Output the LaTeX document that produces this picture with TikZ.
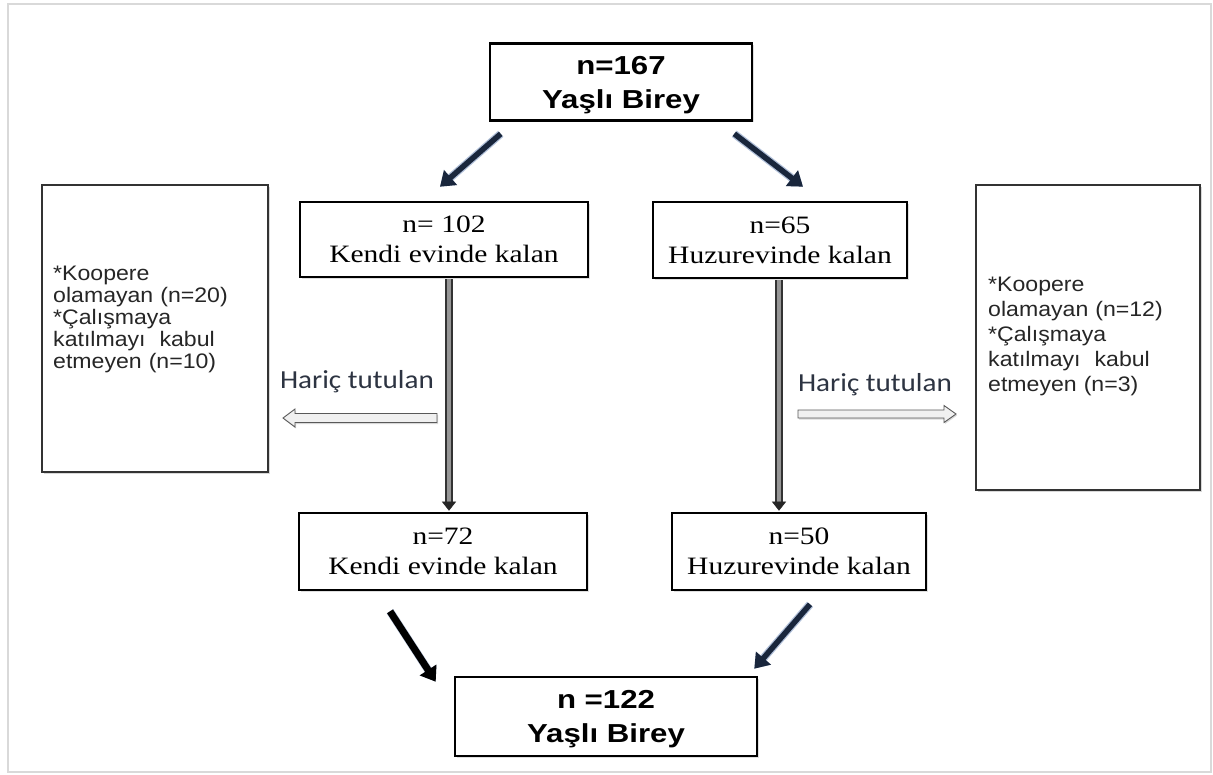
\documentclass[tikz,border=0pt]{standalone}
\usepackage{fontspec}
\setmainfont{Liberation Sans}
\newfontfamily\hsans[FakeStretch=1.2]{Liberation Sans}
\newfontfamily\hserif[FakeStretch=1.18]{Liberation Serif}
\newfontfamily\hside[FakeStretch=1.1]{Liberation Sans}
\newfontfamily\hcalib[FakeStretch=1.12]{Carlito}
\usetikzlibrary{arrows.meta,calc,shadows}
\definecolor{navy}{RGB}{25,38,60}
\definecolor{glow}{RGB}{80,115,170}
\definecolor{shaftgray}{RGB}{150,150,150}
\definecolor{txtdark}{RGB}{45,52,66}
\begin{document}
\begin{tikzpicture}[x=1pt,y=-1pt,
  mainbox/.style={draw=black, line width=2.6pt, fill=white, inner sep=0pt, align=center,
    drop shadow={shadow xshift=1.5pt,shadow yshift=-1.5pt,opacity=.25}},
  bigbox/.style={mainbox, font=\hsans\bfseries\fontsize{26}{34}\selectfont},
  midbox/.style={mainbox, font=\hserif\fontsize{25}{30}\selectfont},
  sidebox/.style={draw=black!80, line width=1.3pt, fill=white,
    drop shadow={shadow xshift=1.5pt,shadow yshift=-1.5pt,opacity=.3}},
  sidetext/.style={anchor=north west, inner sep=0pt, align=left, text width=208pt, text=black!85},
  diag/.style={-{Triangle[width=19pt,length=14pt]}, line width=5.5pt, draw=navy, fill=navy,
    preaction={draw=glow, line width=8pt, opacity=0.45}},
  diagblack/.style={diag, line width=7pt, draw=black, fill=black},
  dshaft/.style={draw=black!80, double=shaftgray, line width=1.8pt, double distance=4pt},
  dtip/.style={-{Triangle[width=14pt,length=9pt]}, draw=black!85, line width=0.5pt},
  hollow/.style={draw=gray!70!black, line width=0.9pt, fill=gray!12,
    drop shadow={shadow xshift=1pt,shadow yshift=-1.5pt,opacity=.3}},
  hlabel/.style={font=\hcalib\fontsize{26}{30}\selectfont, text=txtdark, inner sep=0pt}
]
\useasboundingbox (0,0) rectangle (1213,774);
\fill[white] (0,0) rectangle (1213,774);
\draw[gray!30, line width=2pt] (8,4) rectangle (1211,772);

% main boxes
\node[bigbox, minimum width=262pt, minimum height=77pt] (top) at (621,82) {\strut n=167\\Yaşlı Birey};
\node[midbox, minimum width=288pt, minimum height=75pt] (A) at (444,239.5) {n= 102\\Kendi evinde kalan};
\node[midbox, minimum width=254pt, minimum height=76pt] (B) at (780,240) {n=65\\Huzurevinde kalan};
\node[midbox, minimum width=288pt, minimum height=77pt] (C) at (443,551.5) {n=72\\Kendi evinde kalan};
\node[midbox, minimum width=254pt, minimum height=77pt] (D) at (799,551.5) {n=50\\Huzurevinde kalan};
\node[bigbox, minimum width=302pt, minimum height=79pt] (bot) at (606,716.5) {\strut n =122\\Yaşlı Birey};

% side boxes
\node[sidebox, minimum width=226pt, minimum height=287pt] (L) at (155,328.5) {};
\node[sidebox, minimum width=224pt, minimum height=305pt] (R) at (1088,337.5) {};
\node[sidetext, font=\hside\fontsize{21}{22}\selectfont] (Lt) at (53,266)
  {*Koopere\\{}olamayan (n=20)\\{}*Çalışmaya\\{}katılmayı\ \ kabul\\{}etmeyen (n=10)};
\node[sidetext, font=\hside\fontsize{21}{25}\selectfont] (Rt) at (988,277)
  {*Koopere\\{}olamayan (n=12)\\{}*Çalışmaya\\{}katılmayı\ \ kabul\\{}etmeyen (n=3)};

% diagonal arrows
\draw[diag] ($(top.south west)+(12,12)$) -- ($(A.north)+(-4,-14)$);
\draw[diag] ($(top.south east)+(-19,12)$) -- ($(B.north)+(23,-14)$);
\draw[diagblack] ($(C.south)+(-53,20)$) -- ($(bot.north west)+(-18,6)$);
\draw[diag] ($(D.south)+(11,13)$) -- ($(bot.north east)+(-4,-7)$);

% vertical double arrows
\draw[dshaft] ($(A.south)+(5,1)$) -- ($(C.north)+(6,-8)$);
\draw[dtip] ($(C.north)+(6,-10)$) -- ($(C.north)+(6,-1)$);
\draw[dshaft] ($(B.south)+(-1,1)$) -- ($(D.north)+(-20,-8)$);
\draw[dtip] ($(D.north)+(-20,-10)$) -- ($(D.north)+(-20,-1)$);

% excluded labels and hollow arrows
\node[hlabel] (hl) at (357,382) {Hariç tutulan};
\node[hlabel] (hr) at (875,385) {Hariç tutulan};
\draw[hollow] (437,413.5) -- (295,413.5) -- (295,409) -- (283,418) -- (295,427) -- (295,422.5) -- (437,422.5) -- cycle;
\draw[hollow] (798,410) -- (944,410) -- (944,405.5) -- (956,414) -- (944,422.5) -- (944,418) -- (798,418) -- cycle;
\end{tikzpicture}
\end{document}
